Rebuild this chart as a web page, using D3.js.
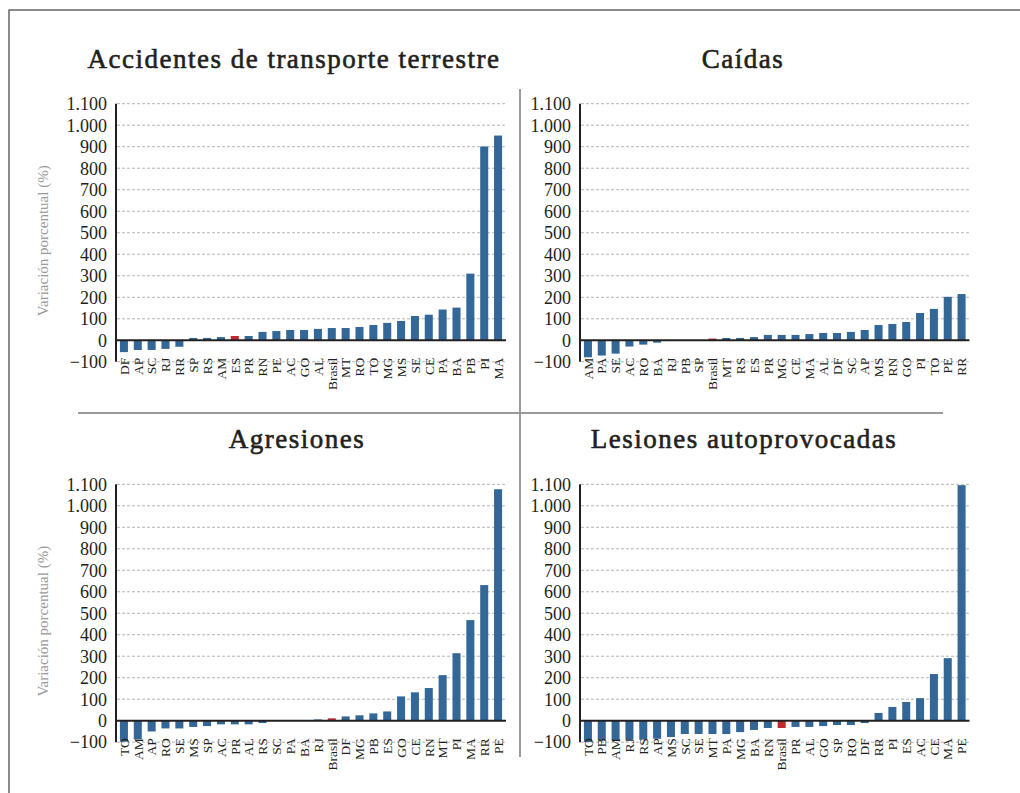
<!DOCTYPE html>
<html><head><meta charset="utf-8">
<script src="https://cdn.jsdelivr.net/npm/d3@7"></script>
<style>body{margin:0;background:#fff}svg{display:block}</style>
</head><body>
<svg id="c" width="1020" height="793"></svg>
<script>
// ---- data ----
const titles = ["Accidentes de transporte terrestre", "Caídas", "Agresiones", "Lesiones autoprovocadas"];
const yTicks = [-100, 0, 100, 200, 300, 400, 500, 600, 700, 800, 900, 1000, 1100];
const yTitle = "Variación porcentual (%)";

const cat1 = ["DF","AP","SC","RJ","RR","SP","RS","AM","ES","PR","RN","PE","AC","GO","AL","Brasil","MT","RO","TO","MG","MS","SE","CE","PA","BA","PB","PI","MA"];
const val1 = [-55,-45,-45,-40,-30,11,11,15,20,20,39,43,48,48,53,57,57,62,71,81,90,113,119,143,152,310,901,952];
const red1 = "ES";

const cat2 = ["AM","PA","SE","AC","RO","BA","RJ","PB","SP","Brasil","MT","RS","ES","PR","MG","CE","MA","AL","DF","SC","AP","MS","RN","GO","PI","TO","PE","RR"];
const val2 = [-79,-71,-62,-29,-20,-11,-1,-1,-1,8,11,11,15,25,25,25,29,34,34,39,48,71,76,85,127,146,202,215];
const red2 = "Brasil";

const cat3 = ["TO","AM","AP","RO","SE","MS","SP","AC","PR","AL","RS","SC","PA","BA","RJ","Brasil","DF","MG","PB","ES","GO","CE","RN","MT","PI","MA","RR","PE"];
const val3 = [-98,-87,-50,-36,-36,-29,-25,-17,-17,-17,-11,-1,0,2,6,11,20,25,34,43,113,132,152,212,314,468,631,1077];
const red3 = "Brasil";

const cat4 = ["TO","PB","AM","RJ","RS","AP","MS","SC","SE","MT","PA","MG","BA","RN","Brasil","PR","AL","GO","SP","RO","DF","RR","PI","ES","AC","CE","MA","PE"];
const val4 = [-99,-91,-91,-88,-88,-84,-76,-62,-62,-62,-62,-53,-43,-34,-34,-29,-29,-25,-20,-20,-11,36,64,87,105,217,291,1096];
const red4 = "Brasil";

// ---- layout ----
const svg = d3.select("#c");
const FONT = "'Liberation Serif', 'DejaVu Serif', serif";
const BLUE = "#336797", RED = "#c1272d", DARK = "#231f20";

svg.append("rect").attr("x", 9).attr("y", 10).attr("width", 1100).attr("height", 900)
  .attr("fill", "none").attr("stroke", "#666").attr("stroke-width", 1.5);
svg.append("line").attr("x1", 520).attr("x2", 520).attr("y1", 89).attr("y2", 757)
  .attr("stroke", "#9a9a9a").attr("stroke-width", 2);
svg.append("line").attr("x1", 78).attr("x2", 943).attr("y1", 413).attr("y2", 413)
  .attr("stroke", "#9a9a9a").attr("stroke-width", 2);

const panels = [
  {cats: cat1, vals: val1, red: red1, x0: 117, x1: 505, yTop: 103.7, yZero: 340.3, tx: 294, ty: 68, ytitle: true},
  {cats: cat2, vals: val2, red: red2, x0: 581, x1: 968.5, yTop: 103.7, yZero: 340.3, tx: 743, ty: 68, ytitle: false},
  {cats: cat3, vals: val3, red: red3, x0: 117, x1: 505, yTop: 484.3, yZero: 720.7, tx: 297, ty: 448, ytitle: true},
  {cats: cat4, vals: val4, red: red4, x0: 581, x1: 968.5, yTop: 484.3, yZero: 720.7, tx: 744, ty: 448, ytitle: false}
];

panels.forEach((p, i) => {
  const g = svg.append("g");
  const y = d3.scaleLinear().domain([0, 1100]).range([p.yZero, p.yTop]);
  const x = d3.scaleBand().domain(p.cats).range([p.x0, p.x1]).paddingInner(0.42).paddingOuter(0.21);
  const axX = p.x0 - 1;

  g.append("text").attr("x", p.tx).attr("y", p.ty).attr("text-anchor", "middle")
    .attr("font-family", FONT).attr("font-weight", "normal").attr("font-size", 27)
    .attr("letter-spacing", 1.5).attr("fill", "#231f20")
    .attr("stroke", "#231f20").attr("stroke-width", 0.6).text(titles[i]);

  // grid
  g.selectAll(".grid").data(yTicks.filter(t => t !== 0)).join("line")
    .attr("x1", axX + 1).attr("x2", p.x1 + 1)
    .attr("y1", d => y(d)).attr("y2", d => y(d))
    .attr("stroke", "#b5b5b5").attr("stroke-width", 1).attr("stroke-dasharray", "3,2");

  // tick labels
  const fmt = d => d3.format(",")(d).replace(/,/g, ".");
  g.selectAll(".tl").data(yTicks).join("text")
    .attr("x", axX - 9).attr("y", d => y(d)).attr("dy", "0.35em")
    .attr("text-anchor", "end").attr("font-family", FONT).attr("font-size", 18)
    .attr("fill", "#231f20").text(fmt);

  // bars
  g.selectAll(".bar").data(p.cats.map((c, k) => ({c, v: p.vals[k]}))).join("rect")
    .attr("x", d => x(d.c)).attr("width", x.bandwidth())
    .attr("y", d => Math.min(y(d.v), y(0))).attr("height", d => Math.abs(y(d.v) - y(0)))
    .attr("fill", d => d.c === p.red ? RED : BLUE);

  // zero line and y axis
  g.append("line").attr("x1", axX).attr("x2", p.x1 + 1).attr("y1", y(0)).attr("y2", y(0))
    .attr("stroke", DARK).attr("stroke-width", 2);
  g.append("line").attr("x1", axX).attr("x2", axX).attr("y1", y(1100)).attr("y2", y(-100))
    .attr("stroke", DARK).attr("stroke-width", 2);

  // x labels
  const ly = y(-100) - 4;
  g.selectAll(".xl").data(p.cats).join("text")
    .attr("transform", d => `translate(${x(d) + x.bandwidth() / 2},${ly}) rotate(-90)`)
    .attr("dy", "0.35em").attr("text-anchor", "end")
    .attr("font-family", FONT).attr("font-size", 13.5).attr("fill", "#231f20").text(d => d);

  if (p.ytitle) {
    g.append("text")
      .attr("transform", `translate(43,${(y(1100) + y(-100)) / 2 + 8}) rotate(-90)`)
      .attr("dy", "0.35em").attr("text-anchor", "middle")
      .attr("font-family", FONT).attr("font-size", 15).attr("fill", "#9a9a9a").text(yTitle);
  }
});
</script>
</body></html>
